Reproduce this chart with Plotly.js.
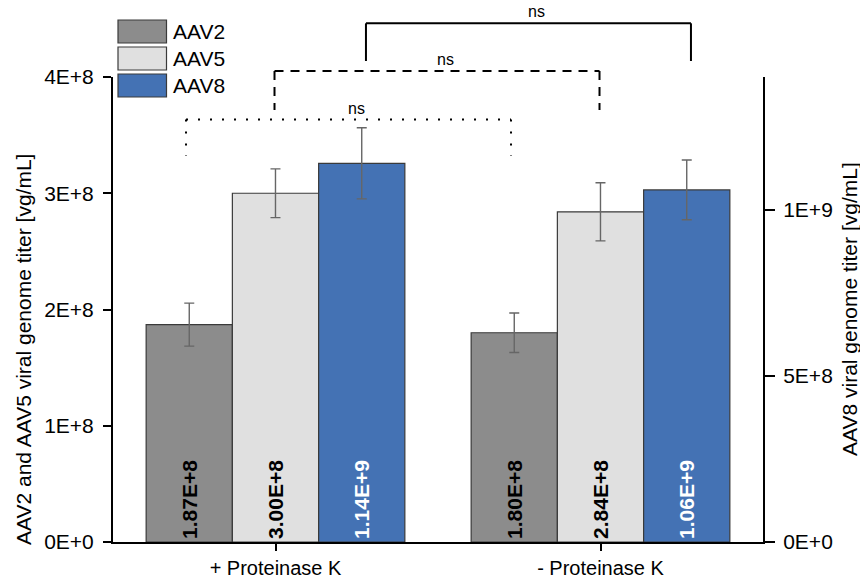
<!DOCTYPE html>
<html>
<head>
<meta charset="utf-8">
<script src="https://cdn.plot.ly/plotly-3.0.1.min.js"></script>
<style>html,body{margin:0;padding:0;background:#fff;}#chart{width:860px;height:580px;}</style>
</head>
<body>
<div id="chart"></div>
<script>
// ---- data ----
const categories = ['+ Proteinase K', '- Proteinase K'];
const seriesNames = ['AAV2', 'AAV5', 'AAV8'];
const aav2 = [1.87e8, 1.80e8];
const aav5 = [3.00e8, 2.84e8];
const aav8 = [1.14e9, 1.06e9];
const aav2Err = [1.85e7, 1.7e7];
const aav5Err = [2.1e7, 2.5e7];
const aav8Err = [1.07e8, 0.9e8];
const leftTickVals = [0, 1e8, 2e8, 3e8, 4e8];
const leftTickText = ['0E+0', '1E+8', '2E+8', '3E+8', '4E+8'];
const rightTickVals = [0, 5e8, 1e9];
const rightTickText = ['0E+0', '5E+8', '1E+9'];
const sigLabels = ['ns', 'ns', 'ns'];
const leftTitle = 'AAV2 and AAV5 viral genome titer [vg/mL]';
const rightTitle = 'AAV8 viral genome titer [vg/mL]';

// ---- styles ----
const colors = ['#8c8c8c', '#e0e0e0', '#4472b4'];
const textColors = ['#000000', '#000000', '#ffffff'];
const FONT = 'Liberation Sans, Arial, sans-serif';
const FS = 21;
const BW = 0.2653;
const offsets = [-0.398, -0.1327, 0.1327];

function fmt(v) { return v.toExponential(2).toUpperCase(); }

const values = [aav2, aav5, aav8];
const errs = [aav2Err, aav5Err, aav8Err];
const axes = ['y', 'y', 'y2'];

const traces = values.map((vals, i) => ({
  type: 'bar',
  name: seriesNames[i],
  x: categories,
  y: vals,
  yaxis: axes[i],
  width: BW,
  offset: offsets[i],
  marker: { color: colors[i], line: { color: '#3a3a3a', width: 1.2 } },
  text: vals.map(fmt),
  textposition: 'inside',
  insidetextanchor: 'start',
  textangle: -90,
  constraintext: 'none',
  insidetextfont: { family: FONT, size: FS, color: textColors[i], weight: 'bold' },
  error_y: { type: 'data', array: errs[i], visible: true, color: '#666666', thickness: 1.4, width: 5 },
  showlegend: false,
  hoverinfo: 'skip'
}));

// helpers for positions
const ypx = (p) => (542 - p) / 465; // pixel -> paper (y)
const xpx = (p) => (p - 113) / 650; // pixel -> paper (x)
const center = (cat, s) => cat + offsets[s] + BW / 2;

const shapes = [];
const annotations = [];

// legend (custom large swatches)
const legendRows = [ [20, 43], [47, 70], [74, 97] ];
legendRows.forEach((r, i) => {
  shapes.push({ type: 'rect', xref: 'paper', yref: 'paper',
    x0: xpx(118), x1: xpx(166.5), y0: ypx(r[1]), y1: ypx(r[0]),
    fillcolor: colors[i], line: { color: '#3a3a3a', width: 1.2 } });
  annotations.push({ xref: 'paper', yref: 'paper', x: xpx(171), y: ypx((r[0] + r[1]) / 2),
    xanchor: 'left', yanchor: 'middle', text: seriesNames[i], showarrow: false,
    font: { family: FONT, size: FS, color: '#000' } });
});

// significance brackets
const brackets = [
  { s: 0, top: 119.5, bot: 156, dash: '2px,10px', shift: -0.01 },
  { s: 1, top: 71, bot: 110, dash: '9px,7px', shift: -0.003 },
  { s: 2, top: 23.3, bot: 61, dash: 'solid', shift: 0.013 }
];
brackets.forEach((b, i) => {
  const xa = center(0, b.s) + b.shift, xb = center(1, b.s) + b.shift;
  const ln = { color: '#000', width: 2, dash: b.dash };
  shapes.push({ type: 'line', xref: 'x', yref: 'paper', x0: xa, x1: xb, y0: ypx(b.top), y1: ypx(b.top), line: ln });
  shapes.push({ type: 'line', xref: 'x', yref: 'paper', x0: xa, x1: xa, y0: ypx(b.top), y1: ypx(b.bot), line: ln });
  shapes.push({ type: 'line', xref: 'x', yref: 'paper', x0: xb, x1: xb, y0: ypx(b.top), y1: ypx(b.bot), line: ln });
  annotations.push({ xref: 'x', yref: 'paper', x: (xa + xb) / 2 + 0.025, y: ypx(b.top - 1),
    xanchor: 'center', yanchor: 'bottom', text: sigLabels[i], showarrow: false,
    font: { family: FONT, size: 16, color: '#000' } });
});

// axis titles (placed like the reference)
annotations.push({ xref: 'paper', yref: 'paper', x: xpx(23), y: ypx(350), textangle: -90,
  xanchor: 'center', yanchor: 'middle', text: leftTitle, showarrow: false,
  font: { family: FONT, size: FS, color: '#000' } });
annotations.push({ xref: 'paper', yref: 'paper', x: xpx(849), y: ypx(309), textangle: -90,
  xanchor: 'center', yanchor: 'middle', text: rightTitle, showarrow: false,
  font: { family: FONT, size: FS, color: '#000' } });

const layout = {
  width: 860, height: 580,
  margin: { l: 113, r: 97, t: 77, b: 38 },
  paper_bgcolor: '#fff', plot_bgcolor: '#fff',
  font: { family: FONT, size: FS, color: '#000' },
  barmode: 'overlay',
  xaxis: {
    type: 'category', range: [-0.5, 1.5],
    showline: true, linecolor: '#000', linewidth: 2,
    ticks: 'outside', ticklen: 7, tickwidth: 2, tickcolor: '#000',
    showgrid: false, zeroline: false,
    tickfont: { family: FONT, size: 20 }
  },
  yaxis: {
    range: [0, 4e8], tickvals: leftTickVals, ticktext: leftTickText,
    showline: true, linecolor: '#000', linewidth: 2,
    ticks: 'outside', ticklen: 8, tickwidth: 2, tickcolor: '#000',
    ticklabelstandoff: 5,
    showgrid: false, zeroline: false,
    tickfont: { family: FONT, size: FS }
  },
  yaxis2: {
    overlaying: 'y', side: 'right',
    range: [0, 1.4e9], tickvals: rightTickVals, ticktext: rightTickText,
    showline: true, linecolor: '#000', linewidth: 2,
    ticks: 'outside', ticklen: 10, tickwidth: 2, tickcolor: '#000',
    ticklabelstandoff: 4,
    showgrid: false, zeroline: false,
    tickfont: { family: FONT, size: FS }
  },
  shapes: shapes,
  annotations: annotations
};

Plotly.newPlot('chart', traces, layout, { displayModeBar: false, staticPlot: true });
</script>
</body>
</html>
